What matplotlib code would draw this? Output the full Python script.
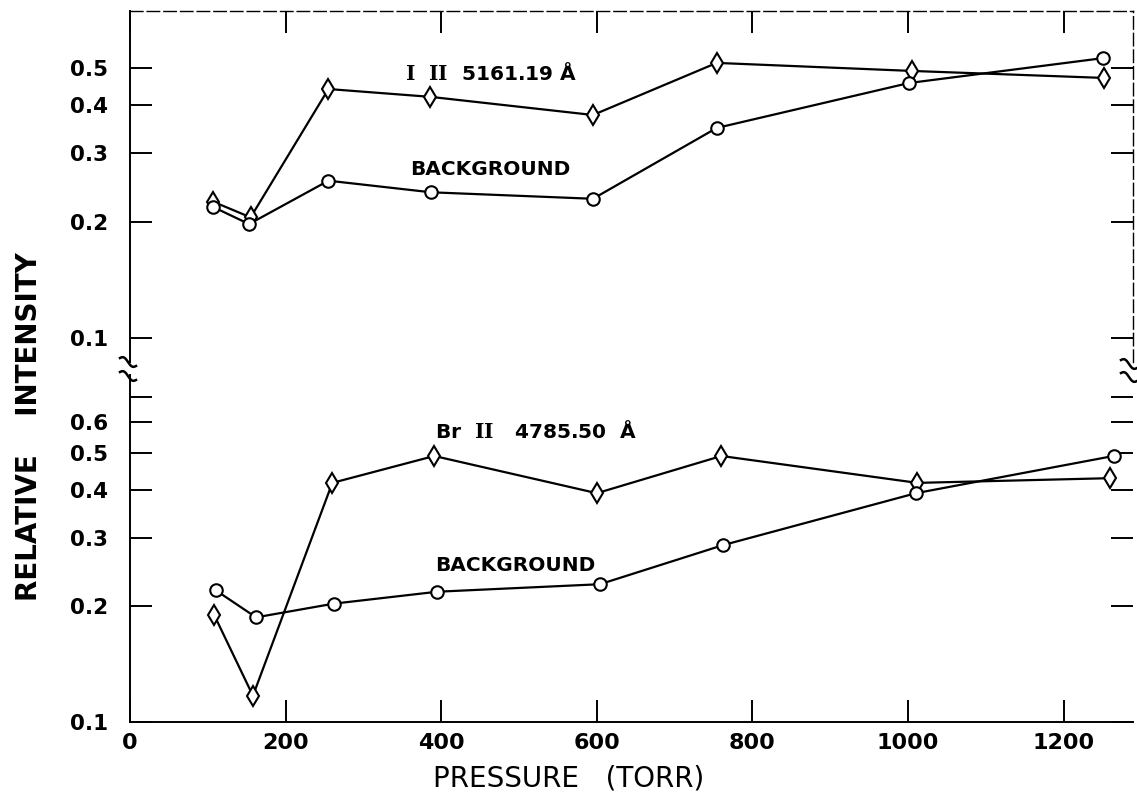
import matplotlib
matplotlib.use("Agg")
import matplotlib.pyplot as plt
from matplotlib import ticker
import numpy as np

plt.rcParams['font.family'] = ['DejaVu Sans']
plt.rcParams['mathtext.fontset'] = 'dejavuserif'

# upper panel: I II 5161.19 A line and its background
x_iodine = [107, 155, 255, 386, 595, 754, 1005, 1252]
y_iodine = [0.225, 0.205, 0.44, 0.42, 0.377, 0.514, 0.49, 0.47]
x_iodine_bg = [107, 153, 255, 387, 595, 754, 1001, 1251]
y_iodine_bg = [0.218, 0.197, 0.255, 0.238, 0.229, 0.349, 0.456, 0.529]

# lower panel: Br II 4785.50 A line and its background
x_bromine = [108, 158, 260, 391, 600, 760, 1012, 1260]
y_bromine = [0.190, 0.117, 0.418, 0.491, 0.393, 0.491, 0.418, 0.43]
x_bromine_bg = [110, 162, 262, 395, 604, 762, 1010, 1264]
y_bromine_bg = [0.220, 0.187, 0.203, 0.218, 0.228, 0.288, 0.393, 0.491]

x_ticks = [0, 200, 400, 600, 800, 1000, 1200]
top_yticks = [0.1, 0.2, 0.3, 0.4, 0.5]
bot_yticks = [0.1, 0.2, 0.3, 0.4, 0.5, 0.6, 0.7]
bot_ylabels = ["0.1", "0.2", "0.3", "0.4", "0.5", "0.6", ""]

W, H = 1137, 794
fig = plt.figure(figsize=(W / 100, H / 100), dpi=100)

ax_top = fig.add_axes([130 / W, 1 - 362 / H, 1003 / W, 351 / H])
ax_bot = fig.add_axes([130 / W, 1 - 722 / H, 1003 / W, 347 / H])

line_kw = dict(color='black', lw=1.6, mfc='white', mec='black', mew=1.5)

ax_top.plot(x_iodine, y_iodine, marker='d', ms=10, **line_kw)
ax_top.plot(x_iodine_bg, y_iodine_bg, marker='o', ms=9, **line_kw)
ax_bot.plot(x_bromine, y_bromine, marker='d', ms=10, **line_kw)
ax_bot.plot(x_bromine_bg, y_bromine_bg, marker='o', ms=9, **line_kw)

for ax in (ax_top, ax_bot):
    ax.set_yscale('log')
    ax.set_xlim(0, 1289)
    ax.set_xticks(x_ticks)
    ax.xaxis.set_minor_locator(ticker.NullLocator())
    ax.yaxis.set_minor_locator(ticker.NullLocator())
    ax.tick_params(which='major', direction='in', length=16, width=1.4,
                   color='black')
    for sp in ax.spines.values():
        sp.set_linewidth(1.4)

ax_top.set_ylim(0.0867, 0.70)
ax_top.set_yticks(top_yticks)
ax_top.set_yticklabels([str(v) for v in top_yticks], fontsize=15.5,
                       fontweight='bold')
ax_top.tick_params(axis='y', left=True, right=True, pad=16)
ax_top.tick_params(axis='x', top=True, bottom=False, labelbottom=False)
ax_top.spines['bottom'].set_visible(False)
ax_top.spines['top'].set_linestyle((0, (9, 3)))
ax_top.spines['right'].set_linestyle((0, (9, 3)))
ax_top.spines['top'].set_linewidth(1.0)
ax_top.spines['right'].set_linewidth(1.0)

ax_bot.set_ylim(0.1, 0.797)
ax_bot.set_yticks(bot_yticks)
ax_bot.set_yticklabels(bot_ylabels, fontsize=15.5, fontweight='bold')
ax_bot.tick_params(axis='y', left=True, right=True, pad=16)
ax_bot.tick_params(axis='x', top=False, bottom=True, pad=8)
ax_bot.set_xticklabels([str(v) for v in x_ticks], fontsize=16,
                       fontweight='bold')
ax_bot.spines['top'].set_visible(False)
ax_bot.spines['right'].set_visible(False)

# curve labels
ax_top.text(353, 0.465, r"$\mathbf{I}$  $\mathbf{II}$  5161.19 Å",
            fontsize=14.5, fontweight='bold', ha='left', va='baseline')
ax_top.text(360, 0.264, "BACKGROUND", fontsize=14.5, fontweight='bold',
            ha='left', va='baseline')
ax_bot.text(392, 0.547, r"Br  $\mathbf{II}$   4785.50  Å", fontsize=14.5,
            fontweight='bold', ha='left', va='baseline')
ax_bot.text(392, 0.2466, "BACKGROUND", fontsize=14.5, fontweight='bold',
            ha='left', va='baseline')

fig.text(569 / W, 1 - 778 / H, "PRESSURE   (TORR)", fontsize=20,
         ha='center', va='center')
fig.text(29 / W, 1 - 427 / H, "RELATIVE    INTENSITY", fontsize=20,
         fontweight='bold', rotation=90, ha='center', va='center')

# axis break marks
def squiggle(xc, yc):
    t = np.linspace(-1, 1, 20)
    xs = xc + 8 * t
    ys = yc + 4 * t + 2.5 * np.sin(np.pi * t)
    fig.add_artist(plt.Line2D(xs / W, 1 - ys / H, color='black', lw=1.8,
                              transform=fig.transFigure))

squiggle(128, 362)
squiggle(128, 376)
squiggle(1129, 364)
squiggle(1129, 377)

fig.savefig("out.png", dpi=100)
